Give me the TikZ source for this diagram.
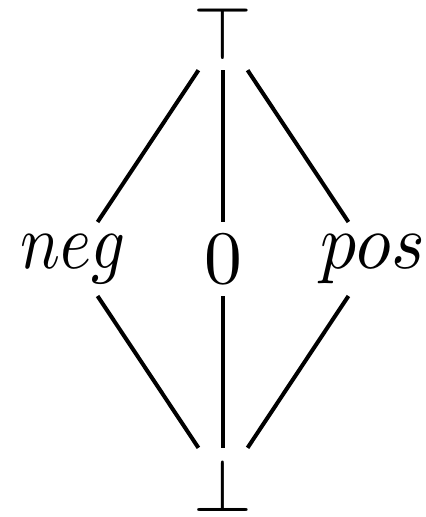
\documentclass[tikz,border=0pt]{standalone}
\usepackage{graphicx}
\begin{document}
\begin{tikzpicture}[x=0.13245pt,y=-0.13245pt,
  elem/.style={inner sep=0pt,minimum height=9.4pt,anchor=center},
  link/.style={line width=0.53pt}]
\useasboundingbox (0,0) rectangle (426,517);
\node[elem] (top) at (223,33.2) {$\top$};
\node[elem] (neg) at (73,259) {\scalebox{0.88}[1.04]{$neg$}};
\node[elem] (zero) at (223,259) {$0$};
\node[elem] (pos) at (373,259) {\scalebox{0.95}[1.04]{$pos$}};
\node[elem] (bot) at (223,484.8) {$\bot$};
\draw[link] (top) -- (neg);
\draw[link] (top) -- (zero);
\draw[link] (top) -- (pos);
\draw[link] (neg) -- (bot);
\draw[link] (zero) -- (bot);
\draw[link] (pos) -- (bot);
\end{tikzpicture}
\end{document}
